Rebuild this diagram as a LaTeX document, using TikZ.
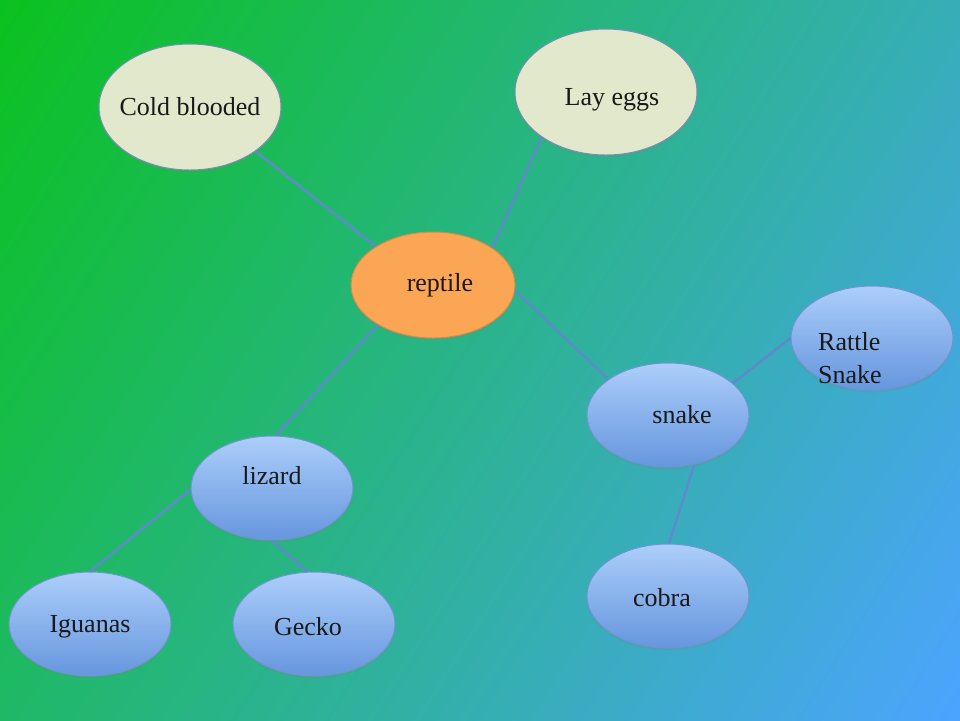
\documentclass[tikz,border=0pt]{standalone}
\usepackage{fontspec}
\setmainfont{Liberation Serif}
\usetikzlibrary{shapes.geometric,shadows}

\definecolor{linkblue}{RGB}{92,140,200}
\definecolor{rimblue}{RGB}{110,150,206}
\definecolor{leaftop}{RGB}{172,206,250}
\definecolor{leafbot}{RGB}{102,150,222}
\definecolor{creamfill}{RGB}{226,232,204}
\definecolor{orangefill}{RGB}{250,166,84}

% slide background: green in the top left corner, blue in the bottom right
\pgfdeclarefunctionalshading{slide bg}{\pgfpoint{-50bp}{-50bp}}{\pgfpoint{50bp}{50bp}}{}{
	-0.0064 mul exch 0.0136 mul add 0.5 add
	dup dup
	225 mul 30 add 255 div
	3 1 roll
	-30 mul 194 add 255 div
	exch
	66 mul 10 add 255 div
	3 1 roll exch
}

\begin{document}
\begin{tikzpicture}[x=0.5pt,y=-0.5pt,
	font=\fontsize{13pt}{16.5pt}\selectfont, text=black!90,
	base node/.style={ellipse,line width=0.5pt,inner sep=0pt,
		drop shadow={opacity=0.22,shadow xshift=0pt,shadow yshift=-1.2pt}},
	leaf node/.style={base node,draw=rimblue,top color=leaftop,bottom color=leafbot,minimum width=81pt,minimum height=52pt},
	fact node/.style={base node,draw=rimblue!70!gray,fill=creamfill,minimum width=91pt,minimum height=63pt},
	root node/.style={base node,draw=orangefill!85!black,fill=orangefill,minimum width=82pt,minimum height=53pt},
	link/.style={draw=linkblue,line width=1.3pt}
]

	\useasboundingbox (0,0) rectangle (960,720);
	\shade[shading=slide bg] (0,0) rectangle (960,720);

	\node[fact node] (cold) at (190,107) {};
	\node[fact node] (eggs) at (606,92) {};
	\node[root node] (reptile) at (433,285) {};
	\node[leaf node] (snake) at (668,415) {};
	\node[leaf node] (rattle) at (872,338) {};
	\node[leaf node] (cobra) at (668,596) {};
	\node[leaf node] (lizard) at (272,488) {};
	\node[leaf node] (iguanas) at (90,624) {};
	\node[leaf node] (gecko) at (314,624) {};

	\draw[link] (cold.326) -- (reptile.146);
	\draw[link] (eggs.215) -- (reptile.32);
	\draw[link] (reptile.356) -- (snake.149);
	\draw[link] (reptile.216) -- (lizard.86);
	\draw[link] (snake.26) -- (rattle.180);
	\draw[link] (snake.298) -- (cobra.89);
	\draw[link] (lizard.181) -- (iguanas.90);
	\draw[link] (lizard.270) -- (gecko.97);

	% labels sit a little off the centres, as in the slide
	\node (cold text) at (cold) {Cold blooded};
	\node (eggs text) at ([xshift=3pt,yshift=-4pt]eggs) {Lay eggs};
	\node (reptile text) at ([xshift=3.5pt]reptile) {reptile};
	\node[align=left] (rattle text) at ([xshift=-11pt,yshift=-10pt]rattle) {Rattle\\Snake};
	\node (snake text) at ([xshift=7pt]snake) {snake};
	\node (cobra text) at ([xshift=-3pt,yshift=-1pt]cobra) {cobra};
	\node (lizard text) at ([yshift=6pt]lizard) {lizard};
	\node (iguanas text) at ([yshift=-1.5pt]iguanas) {Iguanas};
	\node (gecko text) at ([xshift=-3pt,yshift=-1.5pt]gecko) {Gecko};
\end{tikzpicture}
\end{document}
